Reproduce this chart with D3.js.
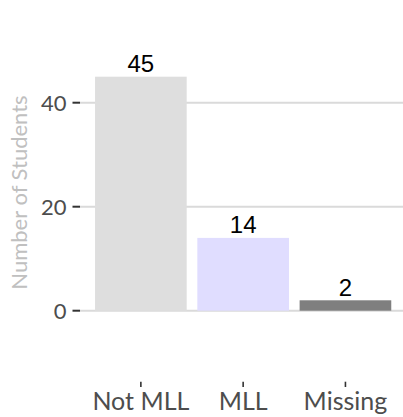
<!DOCTYPE html>
<html>
<head>
<meta charset="utf-8">
<script src="https://cdn.jsdelivr.net/npm/d3@7"></script>
<style>
  body { margin: 0; background: #fff; }
  svg { display: block; }
</style>
</head>
<body>
<div id="chart"></div>
<script>
// data
const categories = ["Not MLL", "MLL", "Missing"];
const counts = [45, 14, 2];
const barColors = ["#dedede", "#e0ddff", "#7f7f7f"];
const yTicks = [0, 20, 40];

const width = 403, height = 417;

const svg = d3.select("#chart")
    .append("svg")
    .attr("width", width)
    .attr("height", height);

// panel spans x 80..403, y axis 0 sits at 311, 40 at 103
const x = d3.scaleBand()
    .domain(categories)
    .range([80, 406.3])
    .paddingInner(0.104)
    .paddingOuter(0.147);

const y = d3.scaleLinear()
    .domain([0, 40])
    .range([310.7, 102.7]);

// gridlines
svg.append("g")
    .selectAll("line")
    .data(yTicks)
    .enter()
    .append("line")
    .attr("x1", 80)
    .attr("x2", width)
    .attr("y1", d => y(d))
    .attr("y2", d => y(d))
    .style("stroke", "#dadada")
    .style("stroke-width", 2);

// bars
svg.append("g")
    .selectAll("rect")
    .data(counts)
    .enter()
    .append("rect")
    .attr("x", (d, i) => x(categories[i]))
    .attr("y", d => y(d))
    .attr("width", x.bandwidth())
    .attr("height", d => y(0) - y(d))
    .style("fill", (d, i) => barColors[i]);

// value labels above bars
svg.append("g")
    .selectAll("text")
    .data(counts)
    .enter()
    .append("text")
    .attr("x", (d, i) => x(categories[i]) + x.bandwidth() / 2)
    .attr("y", d => y(d) - 4.5)
    .attr("text-anchor", "middle")
    .style("font-family", "'Liberation Sans', Arial, sans-serif")
    .style("font-size", "24px")
    .style("fill", "#000")
    .text(d => d);

// y axis ticks + labels
const yAxis = svg.append("g");
yAxis.selectAll("line")
    .data(yTicks)
    .enter()
    .append("line")
    .attr("x1", 72.5)
    .attr("x2", 80)
    .attr("y1", d => y(d))
    .attr("y2", d => y(d))
    .style("stroke", "#333")
    .style("stroke-width", 2);
yAxis.selectAll("text")
    .data(yTicks)
    .enter()
    .append("text")
    .attr("x", 66.5)
    .attr("y", d => y(d))
    .attr("dy", "0.36em")
    .attr("text-anchor", "end")
    .style("font-family", "Lato, sans-serif")
    .style("font-size", "22px")
    .style("fill", "#4d4d4d")
    .text(d => d);

// x axis ticks + labels (axis sits well below the bars)
const xAxis = svg.append("g");
xAxis.selectAll("line")
    .data(categories)
    .enter()
    .append("line")
    .attr("x1", d => x(d) + x.bandwidth() / 2)
    .attr("x2", d => x(d) + x.bandwidth() / 2)
    .attr("y1", 381.7)
    .attr("y2", 387)
    .style("stroke", "#333")
    .style("stroke-width", 1.6);
xAxis.selectAll("text")
    .data(categories)
    .enter()
    .append("text")
    .attr("x", d => x(d) + x.bandwidth() / 2)
    .attr("y", 410)
    .attr("text-anchor", "middle")
    .style("font-family", "Lato, sans-serif")
    .style("font-size", "25px")
    .style("fill", "#4d4d4d")
    .text(d => d);

// y axis title
svg.append("text")
    .attr("transform", "translate(26.5," + 192.5 + ") rotate(-90)")
    .attr("text-anchor", "middle")
    .style("font-family", "Lato, sans-serif")
    .style("font-size", "22px")
    .style("fill", "#c0c0c0")
    .text("Number of Students");
</script>
</body>
</html>
